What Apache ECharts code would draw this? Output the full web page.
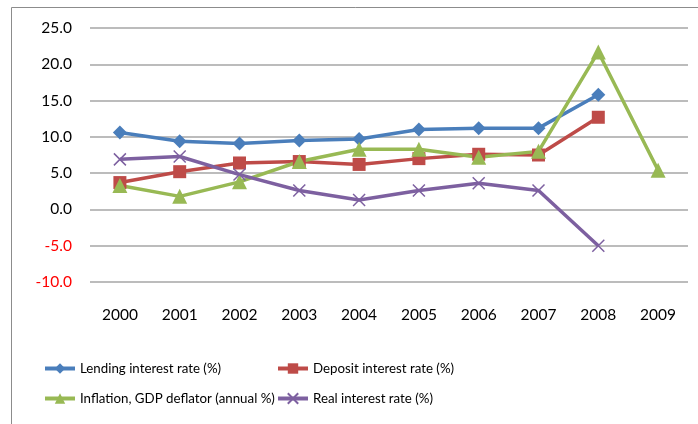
<!DOCTYPE html>
<html>
<head>
<meta charset="utf-8">
<script src="https://cdn.jsdelivr.net/npm/echarts@6/dist/echarts.min.js"></script>
<style>
  html, body { margin: 0; padding: 0; background: #fff; }
  #chart { width: 698px; height: 424px; }
</style>
</head>
<body>
<div id="chart"></div>
<script>
// values
var years = ['2000', '2001', '2002', '2003', '2004', '2005', '2006', '2007', '2008', '2009']
var lendingRate = [10.6, 9.4, 9.1, 9.5, 9.7, 11.0, 11.2, 11.2, 15.8, null]
var depositRate = [3.7, 5.2, 6.4, 6.6, 6.2, 7.0, 7.6, 7.5, 12.7, null]
var inflation = [3.3, 1.8, 3.8, 6.6, 8.3, 8.3, 7.2, 8.0, 21.7, 5.4]
var realRate = [6.9, 7.3, 4.8, 2.6, 1.3, 2.6, 3.6, 2.6, -5.0, null]

var names = [
  'Lending interest rate (%)',
  'Deposit interest rate (%)',
  'Inflation, GDP deflator (annual %)',
  'Real interest rate (%)'
]

var font = 'Lato, "Open Sans", sans-serif'
var chart = echarts.init(document.getElementById('chart'))

function lineSeries(name, data, color, symbol, size, extra) {
  var s = {
    name: name,
    type: 'line',
    data: data,
    symbol: symbol,
    symbolSize: size,
    connectNulls: false,
    animation: false,
    lineStyle: { color: color, width: 3.5 },
    itemStyle: { color: color }
  }
  return Object.assign(s, extra || {})
}

var legendBase = {
  orient: 'vertical',
  top: 357,
  itemGap: 17,
  itemWidth: 30,
  itemHeight: 13,
  lineStyle: { width: 4 },
  textStyle: { fontFamily: font, fontSize: 13.3, color: '#000' }
}

chart.setOption({
  backgroundColor: '#fff',
  graphic: [{
    type: 'rect',
    shape: { x: 11.5, y: 7.5, width: 720, height: 440 },
    style: { fill: null, stroke: '#8c8c8c', lineWidth: 1 },
    silent: true
  }],
  grid: { left: 90, right: 10, top: 28, bottom: 142 },
  xAxis: {
    type: 'category',
    data: years,
    boundaryGap: true,
    axisLine: { show: false },
    axisTick: { show: false },
    axisLabel: { margin: 25, color: '#000', fontFamily: font, fontSize: 15.5 }
  },
  yAxis: {
    type: 'value',
    min: -10,
    max: 25,
    interval: 5,
    axisLine: { show: false },
    axisTick: { show: false },
    splitLine: { lineStyle: { color: '#a6a6a6', width: 1.5 } },
    axisLabel: {
      margin: 18,
      fontFamily: font,
      fontSize: 15.5,
      formatter: function (v) { return v.toFixed(1) },
      color: function (v) { return v < 0 ? '#ff0000' : '#000' }
    }
  },
  legend: [
    Object.assign({ left: 38, data: [names[0], names[2]] }, legendBase),
    Object.assign({ left: 271, data: [names[1], names[3]] }, legendBase)
  ],
  series: [
    lineSeries(names[0], lendingRate, '#4a7ebb', 'diamond', 14),
    lineSeries(names[1], depositRate, '#be4b48', 'rect', 13),
    lineSeries(names[2], inflation, '#98b954', 'triangle', 15),
    lineSeries(names[3], realRate, '#7d60a0', 'path://M0,0L10,10M10,0L0,10', 12, {
      itemStyle: { color: '#7d60a0', borderColor: '#7d60a0', borderWidth: 1.5 }
    })
  ]
})
</script>
</body>
</html>
